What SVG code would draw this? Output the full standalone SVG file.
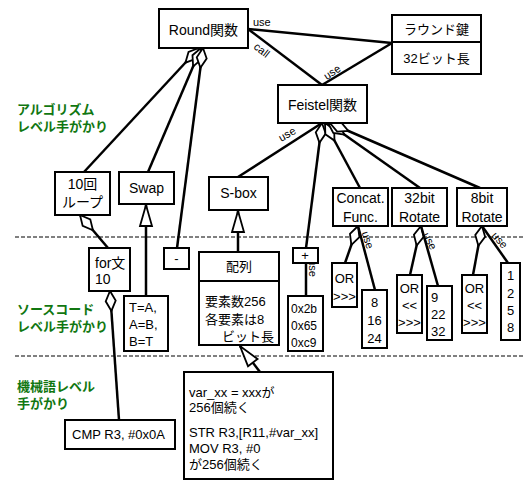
<svg xmlns="http://www.w3.org/2000/svg" width="523" height="480" viewBox="0 0 523 480">
<style>
text{font-family:"Liberation Sans","Noto Sans CJK JP",sans-serif;fill:#000}
.n rect{fill:#fff;stroke:#000;stroke-width:2}
.n line{stroke:#000;stroke-width:2}
.t14{font-size:14px}
.t13{font-size:13px}
.t12{font-size:12px}
.c{text-anchor:middle}
.lbl{font-size:11px}
.g{font-size:13px;font-weight:bold;fill:#117711}
.e line,.e path{stroke:#000;stroke-width:2.5;fill:none}
.agg{marker-start:url(#dia)}
.gen{marker-end:url(#tri)}
.dash{stroke:#000;stroke-width:1;stroke-dasharray:4 2}
</style>
<defs>
<marker id="dia" markerUnits="userSpaceOnUse" markerWidth="22" markerHeight="12" refX="0" refY="5" orient="auto" overflow="visible">
<path d="M0,5 L10,0 L20,5 L10,10 z" fill="#fff" stroke="#000" stroke-width="1.8"/>
</marker>
<marker id="tri" markerUnits="userSpaceOnUse" markerWidth="24" markerHeight="14" refX="21" refY="6" orient="auto" overflow="visible">
<path d="M0,0 L21,6 L0,12 z" fill="#fff" stroke="#000" stroke-width="1.8"/>
</marker>
</defs>

<line class="dash" x1="15" y1="237" x2="523" y2="237"/>
<line class="dash" x1="15" y1="356" x2="523" y2="356"/>

<g id="labels">
<text class="g" x="17" y="114">アルゴリズム</text>
<text class="g" x="17" y="131">レベル手がかり</text>
<text class="g" x="17" y="314">ソースコード</text>
<text class="g" x="17" y="331">レベル手がかり</text>
<text class="g" x="17" y="391">機械語レベル</text>
<text class="g" x="17" y="408">手がかり</text>
</g>

<g id="connectors" class="e">
<line x1="248" y1="29" x2="392" y2="43"/>
<line x1="248" y1="29" x2="322" y2="85"/>
<line x1="322" y1="85" x2="392" y2="43"/>
<line class="agg" x1="199" y1="48" x2="84" y2="172"/>
<line class="agg" x1="201" y1="48" x2="148" y2="172"/>
<line class="agg" x1="203" y1="48" x2="177" y2="248"/>
<line x1="322" y1="123" x2="238" y2="177"/>
<line class="agg" x1="322" y1="123" x2="306" y2="248"/>
<line class="agg" x1="325" y1="123" x2="360" y2="188"/>
<line class="agg" x1="328" y1="123" x2="420" y2="188"/>
<line class="agg" x1="330" y1="123" x2="480" y2="188"/>
<line class="agg" x1="80" y1="215" x2="108" y2="248"/>
<line class="agg" x1="110" y1="291" x2="119" y2="420"/>
<line class="gen" x1="146" y1="296" x2="146" y2="205"/>
<line class="gen" x1="238" y1="252" x2="238" y2="211"/>
<line class="gen" x1="260" y1="372" x2="240" y2="346"/>
<line x1="306" y1="263" x2="306" y2="296"/>
<line class="agg" x1="358" y1="226" x2="345" y2="263"/>
<line x1="358" y1="226" x2="375" y2="290"/>
<line class="agg" x1="421" y1="226" x2="410" y2="275"/>
<line x1="421" y1="226" x2="438" y2="286"/>
<line class="agg" x1="482" y1="226" x2="473" y2="275"/>
<line x1="482" y1="226" x2="508" y2="263"/>
</g>

<g id="edge-labels" class="lbl">
<text x="253" y="26">use</text>
<text transform="translate(262,50) rotate(38)" class="c" y="4">call</text>
<text transform="translate(332,72) rotate(-33)" class="c" y="4">use</text>
<text transform="translate(287,134) rotate(-30)" class="c" y="4">use</text>
<text transform="translate(313,268) rotate(90)" class="c" y="4">use</text>
<text transform="translate(368,240) rotate(72)" class="c" y="4">use</text>
<text transform="translate(430,241) rotate(62)" class="c" y="4">use</text>
<text transform="translate(500,240) rotate(48)" class="c" y="4">use</text>
</g>

<g id="round" class="n"><rect x="159" y="9" width="89" height="39"/><text class="t14 c" x="203.5" y="35">Round関数</text></g>
<g id="roundkey" class="n"><rect x="392" y="15" width="89" height="59"/><line x1="392" y1="42" x2="481" y2="42"/><text class="t13 c" x="436.5" y="34">ラウンド鍵</text><text class="t13 c" x="436.5" y="63">32ビット長</text></g>
<g id="feistel" class="n"><rect x="278" y="85" width="89" height="38"/><text class="t14 c" x="322.5" y="110">Feistel関数</text></g>
<g id="loop" class="n"><rect x="55" y="172" width="55" height="43"/><text class="t14 c" x="82.5" y="189">10回</text><text class="t14 c" x="82.5" y="207">ループ</text></g>
<g id="swap" class="n"><rect x="119" y="172" width="55" height="32"/><text class="t14 c" x="146.5" y="193">Swap</text></g>
<g id="minus" class="n"><rect x="164" y="248" width="25" height="21"/><text class="t13 c" x="176.5" y="263">-</text></g>
<g id="sbox" class="n"><rect x="209" y="177" width="59" height="33"/><text class="t14 c" x="238.5" y="198">S-box</text></g>
<g id="concat" class="n"><rect x="333" y="188" width="55" height="38"/><text class="t14 c" x="360.5" y="203">Concat.</text><text class="t14 c" x="360.5" y="222">Func.</text></g>
<g id="rot32" class="n"><rect x="392" y="188" width="55" height="38"/><text class="t14 c" x="419.5" y="203">32bit</text><text class="t14 c" x="419.5" y="222">Rotate</text></g>
<g id="rot8" class="n"><rect x="457" y="188" width="50" height="38"/><text class="t14 c" x="482" y="203">8bit</text><text class="t14 c" x="482" y="222">Rotate</text></g>
<g id="for" class="n"><rect x="89" y="248" width="41" height="43"/><text class="t14" x="95" y="268">for文</text><text class="t14" x="95" y="284">10</text></g>
<g id="swapcode" class="n"><rect x="124" y="296" width="44" height="55"/><text class="t13" x="129" y="312">T=A,</text><text class="t13" x="129" y="329">A=B,</text><text class="t13" x="129" y="346">B=T</text></g>
<g id="array" class="n"><rect x="199" y="252" width="80" height="93"/><line x1="199" y1="281" x2="279" y2="281"/><text class="t13 c" x="239" y="271">配列</text><text class="t13" x="205" y="306">要素数256</text><text class="t13" x="205" y="324">各要素は8</text><text class="t13" x="222" y="341">ビット長</text></g>
<g id="plus" class="n"><rect x="293" y="248" width="25" height="15"/><text class="t13 c" x="305" y="260">+</text></g>
<g id="consts" class="n"><rect x="288" y="296" width="35" height="55"/><text class="t12" x="291" y="313">0x2b</text><text class="t12" x="291" y="330">0x65</text><text class="t12" x="291" y="347">0xc9</text></g>
<g id="or1" class="n"><rect x="332" y="263" width="25" height="44"/><text class="t13 c" x="344.5" y="283">OR</text><text class="t13 c" x="344.5" y="301">&gt;&gt;&gt;</text></g>
<g id="shift1" class="n"><rect x="362" y="290" width="25" height="58"/><text class="t13 c" x="374.5" y="307">8</text><text class="t13 c" x="374.5" y="325">16</text><text class="t13 c" x="374.5" y="343">24</text></g>
<g id="or2" class="n"><rect x="397" y="275" width="25" height="58"/><text class="t13 c" x="409.5" y="293">OR</text><text class="t13 c" x="409.5" y="310">&lt;&lt;</text><text class="t13 c" x="409.5" y="327">&gt;&gt;&gt;</text></g>
<g id="shift2" class="n"><rect x="427" y="286" width="25" height="54"/><text class="t13" x="431" y="302">9</text><text class="t13" x="431" y="319">22</text><text class="t13" x="431" y="336">32</text></g>
<g id="or3" class="n"><rect x="462" y="275" width="25" height="58"/><text class="t13 c" x="474.5" y="293">OR</text><text class="t13 c" x="474.5" y="310">&lt;&lt;</text><text class="t13 c" x="474.5" y="327">&gt;&gt;&gt;</text></g>
<g id="shift3" class="n"><rect x="501" y="263" width="19" height="77"/><text class="t13 c" x="510.5" y="280">1</text><text class="t13 c" x="510.5" y="298">2</text><text class="t13 c" x="510.5" y="315">5</text><text class="t13 c" x="510.5" y="332">8</text></g>
<g id="cmp" class="n"><rect x="65" y="420" width="110" height="29"/><text class="t13" x="72" y="439">CMP R3, #0x0A</text></g>
<g id="asm" class="n"><rect x="184" y="372" width="149" height="107"/><text class="t13" x="189" y="397">var_xx = xxxが</text><text class="t13" x="189" y="412">256個続く</text><text class="t13" x="189" y="437">STR R3,[R11,#var_xx]</text><text class="t13" x="189" y="453">MOV R3, #0</text><text class="t13" x="189" y="469">が256個続く</text></g>
</svg>
